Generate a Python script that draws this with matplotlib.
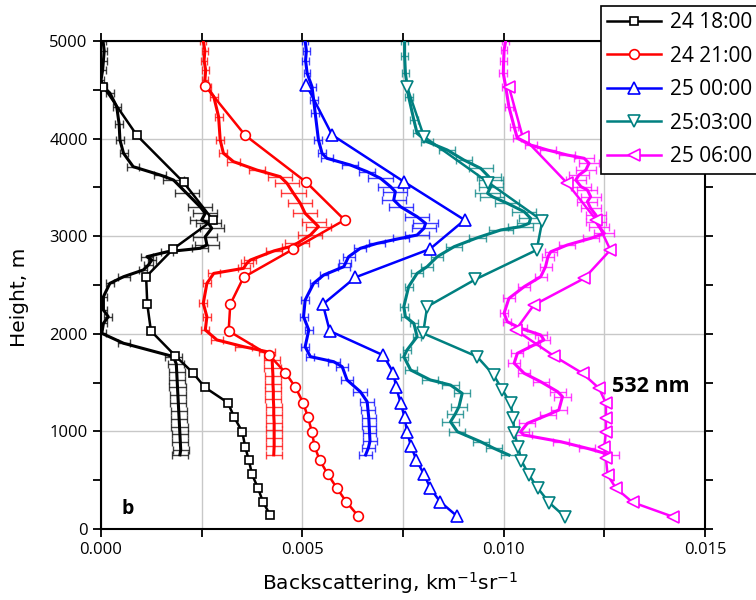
import matplotlib
matplotlib.use("Agg")
import matplotlib.pyplot as plt
from matplotlib.ticker import MultipleLocator, FormatStrFormatter

plt.rcParams['font.family'] = ['Open Sans', 'DejaVu Sans']

# ---- lidar profiles with error bars (height m, backscatter km-1 sr-1, error) ----
h_1800 = [5000, 4900, 4800, 4700, 4600, 4530, 4467, 4327, 4150, 3986, 3849, 3712, 3627, 3576,
          3439, 3302, 3234, 3166, 3132, 3081, 2995, 2910, 2876, 2841, 2790, 2756, 2705, 2654,
          2585, 2517, 2380, 2244, 2175, 2107, 2005, 1903, 1766, 1690, 1610, 1530, 1450, 1370,
          1290, 1210, 1130, 1050, 970, 890, 810, 760]
b_1800 = [0.00005, 0.00008, 0.00006, 0.00004, 0.00000, 0.00006, 0.00022, 0.00039, 0.00045,
          0.00047, 0.00056, 0.00080, 0.00147, 0.00180, 0.00213, 0.00246, 0.00259, 0.00250,
          0.00267, 0.00275, 0.00259, 0.00263, 0.00246, 0.00165, 0.00114, 0.00126, 0.00118,
          0.00105, 0.00056, 0.00022, 0.00006, 0.00006, 0.00018, 0.00006, 0.00002, 0.00056,
          0.00180, 0.00187, 0.00188, 0.00189, 0.00190, 0.00191, 0.00192, 0.00193, 0.00194,
          0.00195, 0.00196, 0.00197, 0.00198, 0.00196]
e_1800 = [0.00008, 0.00008, 0.00008, 0.00008, 0.00008, 0.0001, 0.0001, 0.0001, 0.0001, 0.0001,
          0.0001, 0.00015, 0.00015, 0.00025, 0.0003, 0.0003, 0.0003, 0.0003, 0.0003, 0.0003,
          0.0003, 0.0003, 0.0002, 0.00015, 0.00015, 0.0001, 0.0001, 0.0001, 0.00015, 0.0001,
          0.0001, 0.0001, 0.0001, 0.0001, 0.0001, 0.00015, 0.0002, 0.0002, 0.0002, 0.0002,
          0.0002, 0.0002, 0.0002, 0.0002, 0.0002, 0.0002, 0.0002, 0.0002, 0.0002, 0.0002]

h_2100 = [5000, 4900, 4800, 4700, 4600, 4532, 4430, 4225, 3986, 3849, 3764, 3678, 3610, 3542,
          3439, 3337, 3234, 3149, 3098, 3012, 2927, 2893, 2850, 2756, 2722, 2671, 2619, 2517,
          2312, 2175, 2039, 1937, 1868, 1817, 1732, 1650, 1570, 1490, 1410, 1330, 1250, 1170,
          1090, 1010, 930, 850, 760]
b_2100 = [0.00254, 0.00258, 0.00256, 0.00260, 0.00258, 0.00263, 0.00280, 0.00292, 0.00296,
          0.00304, 0.00329, 0.00387, 0.00445, 0.00462, 0.00478, 0.00495, 0.00507, 0.00528,
          0.00540, 0.00520, 0.00487, 0.00470, 0.00430, 0.00371, 0.00362, 0.00354, 0.00280,
          0.00263, 0.00254, 0.00263, 0.00259, 0.00288, 0.00354, 0.00412, 0.00425, 0.00426,
          0.00427, 0.00427, 0.00428, 0.00428, 0.00429, 0.00429, 0.00430, 0.00430, 0.00430,
          0.00430, 0.00429]
e_2100 = [0.00008, 0.00008, 0.00008, 0.00008, 0.00008, 0.0001, 0.0001, 0.0001, 0.0001, 0.0001,
          0.00015, 0.0002, 0.0003, 0.0003, 0.0003, 0.0003, 0.0003, 0.0003, 0.0003, 0.0003,
          0.0003, 0.0002, 0.0002, 0.00015, 0.00015, 0.00015, 0.00015, 0.0001, 0.0001, 0.0001,
          0.0001, 0.00015, 0.0002, 0.0002, 0.0002, 0.0002, 0.0002, 0.0002, 0.0002, 0.0002,
          0.0002, 0.0002, 0.0002, 0.0002, 0.0002, 0.0002, 0.0002]

h_0000 = [5000, 4900, 4800, 4669, 4532, 4400, 4259, 3986, 3849, 3798, 3730, 3661, 3593, 3508,
          3456, 3371, 3302, 3200, 3132, 3081, 3012, 2978, 2927, 2876, 2790, 2722, 2688, 2602,
          2517, 2346, 2175, 2039, 1868, 1766, 1714, 1663, 1527, 1407, 1304, 1220, 1140, 1060,
          980, 900, 830, 758]
b_0000 = [0.00507, 0.00510, 0.00508, 0.00512, 0.00524, 0.00528, 0.00532, 0.00540, 0.00549,
          0.00561, 0.00619, 0.00661, 0.00694, 0.00719, 0.00731, 0.00727, 0.00744, 0.00785,
          0.00806, 0.00802, 0.00785, 0.00744, 0.00686, 0.00644, 0.00615, 0.00607, 0.00603,
          0.00553, 0.00528, 0.00507, 0.00503, 0.00516, 0.00507, 0.00520, 0.00578, 0.00599,
          0.00611, 0.00644, 0.00661, 0.00663, 0.00665, 0.00666, 0.00667, 0.00668, 0.00664,
          0.00657]
e_0000 = [0.00008, 0.00008, 0.00008, 0.00008, 0.0001, 0.0001, 0.0001, 0.0001, 0.0001, 0.00015,
          0.0002, 0.0002, 0.0003, 0.0003, 0.0003, 0.0003, 0.0003, 0.0003, 0.0003, 0.0003,
          0.0003, 0.0002, 0.0002, 0.00015, 0.00015, 0.00015, 0.00015, 0.0001, 0.0001, 0.0001,
          0.0001, 0.0001, 0.0001, 0.0001, 0.00015, 0.00015, 0.00015, 0.00017, 0.00017, 0.00017,
          0.00017, 0.00017, 0.00017, 0.00017, 0.00017, 0.00017]

h_0300 = [5000, 4850, 4669, 4430, 4190, 4054, 3968, 3883, 3781, 3695, 3610, 3576, 3508, 3439,
          3405, 3337, 3251, 3183, 3132, 3098, 3064, 2985, 2893, 2790, 2688, 2619, 2483, 2278,
          2175, 2107, 1970, 1834, 1766, 1629, 1527, 1475, 1390, 1253, 1180, 1099, 997, 894,
          826, 758]
b_0300 = [0.00754, 0.00754, 0.00756, 0.00764, 0.00777, 0.00785, 0.00810, 0.00860, 0.00901,
          0.00943, 0.00963, 0.00968, 0.00968, 0.00960, 0.00972, 0.01009, 0.01051, 0.01067,
          0.01063, 0.01042, 0.00993, 0.00935, 0.00877, 0.00835, 0.00810, 0.00785, 0.00764,
          0.00752, 0.00756, 0.00777, 0.00785, 0.00760, 0.00752, 0.00769, 0.00818, 0.00868,
          0.00897, 0.00889, 0.00880, 0.00868, 0.00885, 0.00943, 0.00976, 0.01013]
e_0300 = [0.00008, 0.00008, 0.00008, 0.0001, 0.0001, 0.0001, 0.00015, 0.0002, 0.0002, 0.0003,
          0.0003, 0.0003, 0.0003, 0.0003, 0.0003, 0.0003, 0.0003, 0.0003, 0.0003, 0.0003,
          0.0003, 0.0002, 0.0002, 0.00015, 0.00015, 0.00015, 0.0001, 0.0001, 0.0001, 0.0001,
          0.0001, 0.0001, 0.0001, 0.00015, 0.0002, 0.0002, 0.0002, 0.0002, 0.0002, 0.0002,
          0.0002, 0.0002, 0.0002, 0.0002]

h_0600 = [5000, 4908, 4800, 4669, 4532, 4327, 4122, 4003, 3934, 3883, 3832, 3798, 3747, 3678,
          3627, 3576, 3508, 3473, 3405, 3354, 3286, 3217, 3149, 3098, 3029, 2978, 2910, 2841,
          2790, 2688, 2585, 2483, 2363, 2210, 2124, 2056, 1988, 1937, 1885, 1800, 1698, 1595,
          1509, 1407, 1356, 1219, 1168, 1083, 997, 963, 894, 826, 758]
b_0600 = [0.01005, 0.01001, 0.01000, 0.00999, 0.01005, 0.01013, 0.01026, 0.01034, 0.01067,
          0.01109, 0.01158, 0.01200, 0.01212, 0.01204, 0.01187, 0.01179, 0.01192, 0.01208,
          0.01216, 0.01208, 0.01216, 0.01229, 0.01229, 0.01237, 0.01250, 0.01216, 0.01158,
          0.01117, 0.01110, 0.01104, 0.01092, 0.01051, 0.01013, 0.01001, 0.01009, 0.01042,
          0.01092, 0.01100, 0.01075, 0.01034, 0.01026, 0.01051, 0.01092, 0.01134, 0.01146,
          0.01137, 0.01109, 0.01059, 0.01042, 0.01050, 0.01142, 0.01208, 0.01266]
e_0600 = [0.00008, 0.00008, 0.00008, 0.0001, 0.0001, 0.0001, 0.0001, 0.0001, 0.00015, 0.0002,
          0.0002, 0.00025, 0.00025, 0.00025, 0.00025, 0.00025, 0.00025, 0.00025, 0.00025,
          0.00025, 0.00025, 0.00025, 0.00025, 0.00025, 0.00025, 0.0002, 0.0002, 0.00015,
          0.00015, 0.00015, 0.00015, 0.00015, 0.00015, 0.0001, 0.0001, 0.00015, 0.00015,
          0.00015, 0.00015, 0.00015, 0.00015, 0.00015, 0.0002, 0.0002, 0.0002, 0.0002, 0.0002,
          0.0002, 0.0002, 0.0002, 0.0002, 0.0002, 0.0002]

# ---- model / sonde profiles drawn with markers ----
hm_1800 = [4532, 4034, 3552, 3166, 2872, 2585, 2302, 2029, 1772, 1602, 1451, 1294, 1144, 994,
           843, 707, 560, 417, 280, 143]
bm_1800 = [0.00006, 0.00089, 0.00205, 0.00278, 0.00180, 0.00112, 0.00115, 0.00124, 0.00185,
           0.00228, 0.00258, 0.00315, 0.00331, 0.00351, 0.00358, 0.00367, 0.00375, 0.00390,
           0.00402, 0.00420]
hm_2100 = [4539, 4034, 3552, 3166, 2869, 2579, 2302, 2029, 1780, 1602, 1451, 1294, 1144, 994,
           850, 707, 563, 417, 280, 136]
bm_2100 = [0.00259, 0.00358, 0.00510, 0.00605, 0.00478, 0.00354, 0.00321, 0.00317, 0.00418,
           0.00458, 0.00483, 0.00502, 0.00514, 0.00524, 0.00530, 0.00543, 0.00563, 0.00586,
           0.00609, 0.00638]
hm_0000 = [4549, 4037, 3559, 3166, 2869, 2579, 2302, 2029, 1780, 1602, 1451, 1294, 1144, 994,
           850, 707, 563, 417, 280, 136]
bm_0000 = [0.00510, 0.00574, 0.00752, 0.00903, 0.00817, 0.00632, 0.00551, 0.00568, 0.00701,
           0.00726, 0.00733, 0.00744, 0.00754, 0.00760, 0.00770, 0.00783, 0.00802, 0.00818,
           0.00842, 0.00883]
hm_0300 = [4532, 4020, 3550, 3159, 2859, 2558, 2278, 2005, 1766, 1578, 1424, 1288, 1134, 987,
           843, 700, 553, 417, 270, 126]
bm_0300 = [0.00760, 0.00802, 0.00962, 0.01096, 0.01082, 0.00930, 0.00810, 0.00800, 0.00934,
           0.00975, 0.00997, 0.01017, 0.01024, 0.01026, 0.01036, 0.01044, 0.01063, 0.01085,
           0.01113, 0.01152]
hm_0600 = [4532, 4020, 3542, 3166, 2859, 2568, 2295, 2039, 1772, 1595, 1441, 1288, 1134, 997,
           843, 724, 553, 417, 274, 126]
bm_0600 = [0.01013, 0.01047, 0.01158, 0.01230, 0.01265, 0.01200, 0.01075, 0.01030, 0.01125,
           0.01196, 0.01237, 0.01254, 0.01254, 0.01254, 0.01250, 0.01254, 0.01258, 0.01279,
           0.01320, 0.01420]

labels = ['24 18:00', '24 21:00', '25 00:00', '25:03:00', '25 06:00']
colors = ['black', 'red', 'blue', '#008080', 'magenta']
markers = ['s', 'o', '^', 'v', '<']
msizes = [6, 7, 9, 9, 9]

profiles = [(h_1800, b_1800, e_1800), (h_2100, b_2100, e_2100), (h_0000, b_0000, e_0000),
            (h_0300, b_0300, e_0300), (h_0600, b_0600, e_0600)]
marked = [(hm_1800, bm_1800), (hm_2100, bm_2100), (hm_0000, bm_0000),
          (hm_0300, bm_0300), (hm_0600, bm_0600)]

fig = plt.figure(figsize=(7.56, 6.0), dpi=100)
ax = fig.add_axes([101/756, 71/600, 604/756, 488/600])

for (h, b, e), (hm, bm), lab, c, m, ms in zip(profiles, marked, labels, colors, markers, msizes):
    ax.errorbar(b, h, xerr=e, fmt='none', ecolor=c, elinewidth=1.0, capsize=3,
                capthick=1.0, alpha=0.75, zorder=2)
    ax.plot(b, h, color=c, lw=2.2, zorder=3)
    ax.plot(bm, hm, color=c, lw=1.8, marker=m, ms=ms, mfc='white', mec=c, mew=1.2,
            label=lab, zorder=4)

ax.set_xlim(0, 0.015)
ax.set_ylim(0, 5000)
ax.xaxis.set_major_locator(MultipleLocator(0.005))
ax.xaxis.set_minor_locator(MultipleLocator(0.0025))
ax.yaxis.set_major_locator(MultipleLocator(1000))
ax.yaxis.set_minor_locator(MultipleLocator(500))
ax.xaxis.set_major_formatter(FormatStrFormatter('%.3f'))

ax.grid(True, which='major', color='#c8c8c8', lw=1)
ax.grid(True, which='minor', axis='x', color='#c8c8c8', lw=1)
ax.set_axisbelow(True)

ax.tick_params(which='both', direction='out', length=6, width=1.3,
               top=True, right=True, labelsize=12)
for s in ax.spines.values():
    s.set_linewidth(1.5)

ax.set_xlabel('Backscattering, km$^{-1}$sr$^{-1}$', fontsize=14.5, family='DejaVu Sans')
ax.set_ylabel('Height, m', fontsize=14.5, family='DejaVu Sans')
ax.xaxis.set_label_coords(0.478, -0.085)
ax.yaxis.set_label_coords(-0.12, 0.475)

ax.text(0.0005, 150, 'b', fontsize=14, fontweight='bold')
ax.text(0.0127, 1400, '532 nm', fontsize=15.5, fontweight='bold', va='baseline')

leg = fig.legend(loc='upper left', bbox_to_anchor=(601/756, 1 - 6/600), fontsize=15,
                 frameon=True, fancybox=False, edgecolor='black', framealpha=1,
                 handlelength=2.6, handletextpad=0.4, borderpad=0.3, labelspacing=0.6,
                 borderaxespad=0)
leg.get_frame().set_linewidth(1.2)

fig.savefig('out.png', dpi=100)
